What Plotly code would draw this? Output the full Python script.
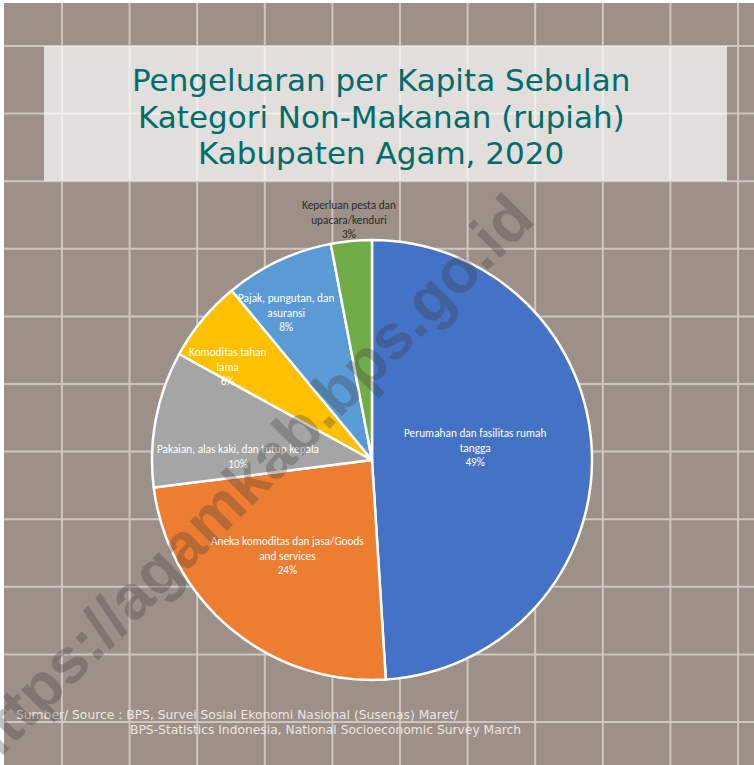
import math
import plotly.graph_objects as go

W, H = 754, 765

# data (percent of non-food spending)
kategori = [
    "Perumahan dan fasilitas rumah<br>tangga",
    "Aneka komoditas dan jasa/Goods<br>and services",
    "Pakaian, alas kaki, dan tutup kepala",
    "Komoditas tahan<br>lama",
    "Pajak, pungutan, dan<br>asuransi",
    "Keperluan pesta dan<br>upacara/kenduri",
]
persen = [49, 24, 10, 6, 8, 3]
warna = ["#4472C4", "#ED7D31", "#A5A5A5", "#FFC000", "#5B9BD5", "#70AD47"]
warna_teks = ["white", "white", "white", "white", "white", "#2a2a2a"]
# label placement: fraction of radius, angle shift (deg) from slice bisector
label_r = [0.47, 0.58, 0.61, 0.78, 0.775, 1.10]
label_dt = [-4.9, 1.9, -9.1, -6.5, -5.1, 0]

judul = ["Pengeluaran per Kapita Sebulan", "Kategori Non-Makanan (rupiah)", "Kabupaten Agam, 2020"]
sumber1 = "Sumber/ Source : BPS, Survei Sosial Ekonomi Nasional (Susenas) Maret/"
sumber2 = "BPS-Statistics Indonesia, National Socioeconomic Survey March"
watermark = "https://agamkab.bps.go.id"

BG = "#9c9088"
GRID = "#cdc6c1"


def px_x(x):
    return x / W


def px_y(y):
    return 1 - y / H


fig = go.Figure()

# pie centre (372, 460) px, radius 220 px
cx, cy, r = 372, 460, 220
fig.add_trace(go.Pie(
    labels=kategori,
    values=persen,
    sort=False,
    direction="clockwise",
    rotation=0,
    marker=dict(colors=warna, line=dict(color="white", width=2.5)),
    textinfo="none",
    hoverinfo="label+percent",
    showlegend=False,
    domain=dict(x=[px_x(cx - r), px_x(cx + r)], y=[px_y(cy + r), px_y(cy - r)]),
))

shapes = []
# brown background with white edge strip
shapes.append(dict(type="rect", xref="paper", yref="paper", x0=px_x(4), x1=1, y0=0, y1=px_y(3),
                   fillcolor=BG, line=dict(width=0), layer="below"))
# graph-paper grid
step = 67.6
for i in range(11):
    x = 62 + i * step
    shapes.append(dict(type="line", xref="paper", yref="paper", x0=px_x(x), x1=px_x(x),
                       y0=0, y1=px_y(3), line=dict(color=GRID, width=2), layer="below"))
    y = 46 + i * step
    shapes.append(dict(type="line", xref="paper", yref="paper", x0=px_x(4), x1=1,
                       y0=px_y(y), y1=px_y(y), line=dict(color=GRID, width=2), layer="below"))
# title box
shapes.append(dict(type="rect", xref="paper", yref="paper", x0=px_x(44), x1=px_x(727),
                   y0=px_y(181), y1=px_y(46), fillcolor="rgba(255,255,255,0.7)",
                   line=dict(width=0), layer="below"))

annotations = []
for i, baris in enumerate(judul):
    annotations.append(dict(text=baris, x=px_x(381), y=px_y(80 + i * 36.5), xref="paper", yref="paper",
                            xanchor="center", yanchor="middle", showarrow=False,
                            font=dict(family="DejaVu Sans, sans-serif", size=31, color="#006d6d")))

# slice labels placed around each slice bisector
total = sum(persen)
cum = 0
for i, v in enumerate(persen):
    mid = (cum + v / 2) / total * 360 + label_dt[i]
    cum += v
    t = math.radians(mid)
    lx = cx + label_r[i] * r * math.sin(t)
    ly = cy - label_r[i] * r * math.cos(t)
    annotations.append(dict(text=f"{kategori[i]}<br>{round(v / total * 100)}%",
                            x=px_x(lx), y=px_y(ly), xref="paper", yref="paper",
                            xanchor="center", yanchor="middle", showarrow=False, align="center",
                            font=dict(family="Carlito, Lato, sans-serif", size=11.3, color=warna_teks[i])))

annotations += [
    dict(text=sumber1, x=px_x(14), y=px_y(715), xref="paper", yref="paper",
         xanchor="left", yanchor="middle", showarrow=False,
         font=dict(family="DejaVu Sans, sans-serif", size=12.3, color="#ebe7e3")),
    dict(text=sumber2, x=px_x(128), y=px_y(730), xref="paper", yref="paper",
         xanchor="left", yanchor="middle", showarrow=False,
         font=dict(family="DejaVu Sans, sans-serif", size=12.3, color="#ebe7e3")),
    dict(text="<b>" + watermark + "</b>", x=px_x(245), y=px_y(482), xref="paper", yref="paper",
         xanchor="center", yanchor="middle", showarrow=False, textangle=-45,
         font=dict(family="Liberation Sans, Arial, sans-serif", size=63, color="rgba(60,60,60,0.3)")),
]

fig.update_layout(
    width=W, height=H,
    margin=dict(l=0, r=0, t=0, b=0),
    paper_bgcolor="white",
    plot_bgcolor="white",
    shapes=shapes,
    annotations=annotations,
)

fig.write_html("out.html", config={"displayModeBar": False},
               post_script="document.body.style.margin='0';")
